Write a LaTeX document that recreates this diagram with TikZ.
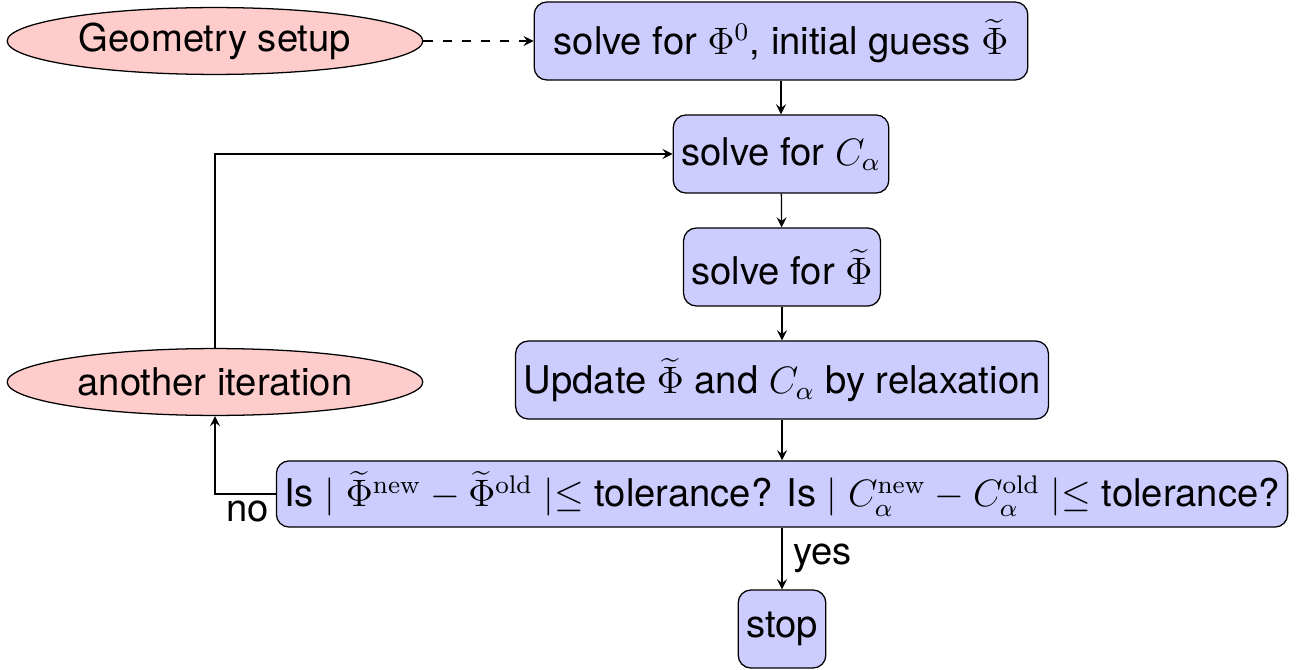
\documentclass[tikz,border=0pt]{standalone}
\usepackage[no-math]{fontspec}
\setmainfont{TeX Gyre Heros}
\usetikzlibrary{shapes.geometric}
\tikzset{
  box/.style={draw=black, fill=blue!20, rounded corners, inner xsep=2.5pt,
              minimum height=24.5pt, font=\large},
  blob/.style={draw=black, fill=red!20, ellipse, inner sep=0pt,
               minimum width=130.5pt, minimum height=21pt, font=\large},
  >=stealth
}
\begin{document}
\begin{tikzpicture}[x=0.314pt, y=-0.314pt]
	\useasboundingbox (0,0) rectangle (1301,670);
	\draw (215,41) node[blob](geom) {Geometry setup};
	\draw (781,41) node[box, minimum width=155pt](init) {solve for $\Phi^0$, initial guess $\widetilde{\Phi}$};
	\draw (781,154) node[box](solveC) {solve for $C_\alpha$};
	\draw (782,267) node[box](solvePhi) {solve for $\widetilde{\Phi}$};
	\draw (782,380) node[box](update) {Update $\widetilde{\Phi}$ and $C_\alpha$ by relaxation};
	\draw (782,494) node[box, minimum height=20pt](check)
		{Is $\mid\widetilde{\Phi}^{\mathrm{new}}-\widetilde{\Phi}^{\mathrm{old}}\mid\leq$ tolerance? Is $\mid C_\alpha^{\mathrm{new}}-C_\alpha^{\mathrm{old}}\mid\leq$ tolerance?};
	\draw (782,629) node[box](stop) {stop};
	\draw (215,382) node[blob](iter) {another iteration};

	\draw[->, dashed] (geom) -- (init);
	\draw[->] (init) -- (solveC);
	\draw[->] (solveC) -- (solvePhi);
	\draw[->] (solvePhi) -- (update);
	\draw[->] (update) -- (check);
	\draw[->] (check) -- node[right, font=\large]{yes} (stop);

	\draw[->] (check.west) -| (iter.south);
	\draw (check.west) node[anchor=north east, inner sep=2pt, font=\large](no) {no};
	\draw[->] (iter.north) |- (solveC.west);
\end{tikzpicture}
\end{document}
